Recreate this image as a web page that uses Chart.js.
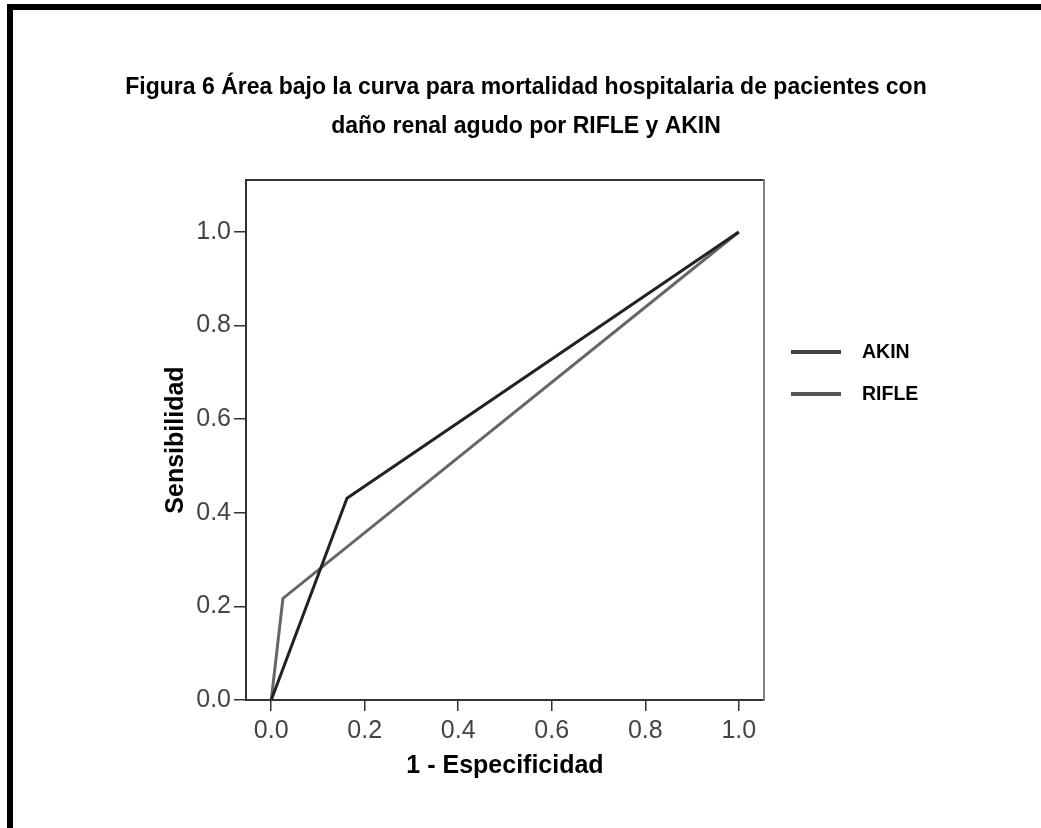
<!DOCTYPE html>
<html>
<head>
<meta charset="utf-8">
<script src="https://cdn.jsdelivr.net/npm/chart.js@4/dist/chart.umd.min.js"></script>
<style>
    html, body { margin: 0; padding: 0; background: #fff; }
    body { width: 1041px; height: 828px; position: relative; overflow: hidden; }
    /* black frame: only top and left edges show in the picture */
    .frame { position: absolute; left: 7px; top: 4px; right: 0; bottom: 0; border-top: 6px solid #000; border-left: 6px solid #000; }
    #rocChart { position: absolute; left: 0; top: 0; }
</style>
</head>
<body>
<div class="frame"></div>
<canvas id="rocChart" width="1041" height="828"></canvas>
<script>
// ROC points (1 - especificidad, sensibilidad)
const seriesNames = ['AKIN', 'RIFLE'];
const akinFpr = [0, 0.162, 1];
const akinTpr = [0, 0.431, 1];
const rifleFpr = [0, 0.025, 1];
const rifleTpr = [0, 0.217, 1];

const xTicks = [0, 0.2, 0.4, 0.6, 0.8, 1.0];
const yTicks = [0, 0.2, 0.4, 0.6, 0.8, 1.0];

const titleLines = [
    'Figura 6 Área bajo la curva para mortalidad hospitalaria de pacientes con',
    'daño renal agudo por RIFLE y AKIN'
];

const FONT = '"Liberation Sans", Arial, Helvetica, sans-serif';

function toPoints(xs, ys){
    return xs.map((x, i) => ({ x: x, y: ys[i] }));
}

// legend drawn in the empty space right of the plot box
const sideLegend = {
    id: 'sideLegend',
    afterDraw(chart) {
        const { ctx } = chart;
        const legendY = [352, 394];
        ctx.save();
        chart.data.datasets.forEach((ds, i) => {
            const y = legendY[i];
            ctx.strokeStyle = ds.legendColor;
            ctx.lineWidth = 4;
            ctx.beginPath();
            ctx.moveTo(791, y);
            ctx.lineTo(841, y);
            ctx.stroke();
            ctx.fillStyle = '#000';
            ctx.font = 'bold 19.5px ' + FONT;
            ctx.textAlign = 'left';
            ctx.textBaseline = 'middle';
            ctx.fillText(ds.label, 862, y + 1);
        });
        ctx.restore();
    }
};

const ctx = document.getElementById('rocChart').getContext('2d');

new Chart(ctx, {
    type: 'line',
    data: {
        datasets: [
            {
                label: seriesNames[0],
                data: toPoints(akinFpr, akinTpr),
                xAxisID: 'x',
                yAxisID: 'y',
                borderColor: '#222222',
                legendColor: '#444444',
                borderWidth: 3,
                pointRadius: 0,
                tension: 0
            },
            {
                label: seriesNames[1],
                data: toPoints(rifleFpr, rifleTpr),
                xAxisID: 'x',
                yAxisID: 'y',
                borderColor: '#666666',
                legendColor: '#555555',
                borderWidth: 3,
                pointRadius: 0,
                tension: 0
            }
        ]
    },
    options: {
        responsive: false,
        animation: false,
        layout: { padding: { top: 0, right: 0, bottom: 0, left: 11 } },
        plugins: {
            legend: { display: false },
            tooltip: { enabled: false },
            title: {
                display: true,
                text: titleLines,
                color: '#000',
                font: { family: FONT, size: 23, weight: 'bold', lineHeight: 1.696 },
                padding: { top: 68.5, bottom: 33.5 }
            }
        },
        scales: {
            x: {
                type: 'linear',
                position: 'bottom',
                min: -0.054,
                max: 1.054,
                afterFit: (scale) => { scale.height = 128; },
                afterBuildTicks: (scale) => { scale.ticks = xTicks.map(v => ({ value: v })); },
                grid: { drawOnChartArea: false, drawTicks: true, tickLength: 11, color: '#333', lineWidth: 1.5 },
                border: { display: true, color: '#333', width: 2 },
                ticks: {
                    color: '#444',
                    padding: 5,
                    font: { family: FONT, size: 25 },
                    callback: (v) => v.toFixed(1)
                },
                title: {
                    display: true,
                    text: '1 - Especificidad',
                    color: '#000',
                    font: { family: FONT, size: 25, weight: 'bold' },
                    padding: { top: 0, bottom: 47 }
                }
            },
            xTop: {
                type: 'linear',
                position: 'top',
                min: -0.054,
                max: 1.054,
                afterFit: (scale) => { scale.height = 0; },
                grid: { display: false },
                ticks: { display: false },
                border: { display: true, color: '#333', width: 2 }
            },
            y: {
                type: 'linear',
                position: 'left',
                min: 0,
                max: 1.111,
                afterFit: (scale) => { scale.width = 235; },
                afterBuildTicks: (scale) => { scale.ticks = yTicks.map(v => ({ value: v })); },
                grid: { drawOnChartArea: false, drawTicks: true, tickLength: 12, color: '#333', lineWidth: 1.5 },
                border: { display: true, color: '#333', width: 2 },
                ticks: {
                    color: '#444',
                    padding: 3,
                    font: { family: FONT, size: 25 },
                    callback: (v) => v.toFixed(1)
                },
                title: {
                    display: true,
                    text: 'Sensibilidad',
                    color: '#000',
                    font: { family: FONT, size: 25, weight: 'bold' },
                    padding: { top: 150, bottom: 0 }
                }
            },
            yRight: {
                type: 'linear',
                position: 'right',
                min: 0,
                max: 1.111,
                afterFit: (scale) => { scale.width = 277; },
                grid: { display: false },
                ticks: { display: false },
                border: { display: true, color: '#808080', width: 2 }
            }
        }
    },
    plugins: [sideLegend]
});
</script>
</body>
</html>
